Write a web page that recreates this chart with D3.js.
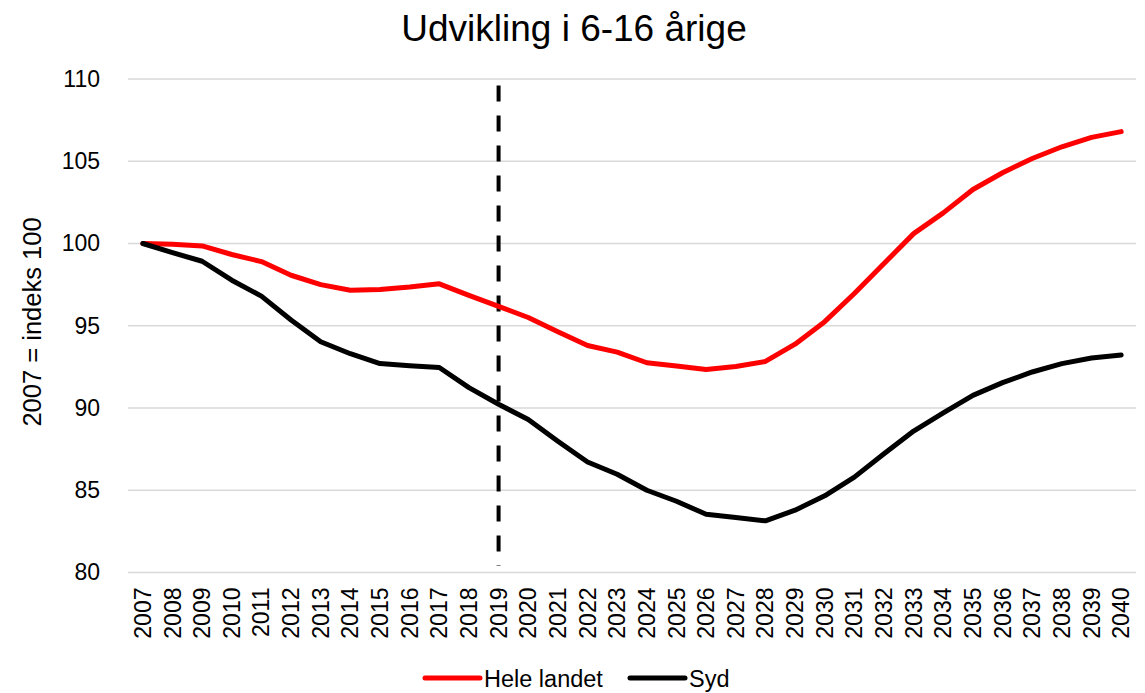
<!DOCTYPE html>
<html>
<head>
<meta charset="utf-8">
<script src="https://cdn.jsdelivr.net/npm/d3@7"></script>
<style>
  html, body { margin: 0; padding: 0; background: #fff; }
  text { font-family: "Liberation Sans", Arial, sans-serif; fill: #000; }
</style>
</head>
<body>
<svg id="chart" width="1145" height="693"></svg>
<script>
const years = d3.range(2007, 2041).map(String);
const heleLandet = [100, 99.95, 99.85, 99.33, 98.9, 98.07, 97.5, 97.16, 97.2, 97.35, 97.55, 96.85, 96.18,
  95.5, 94.63, 93.8, 93.4, 92.75, 92.55, 92.34, 92.52, 92.83, 93.88, 95.25,
  96.96, 98.78, 100.6, 101.86, 103.28, 104.3, 105.17, 105.88, 106.45, 106.8];
const syd = [100, 99.45, 98.92, 97.77, 96.8, 95.35, 94.03, 93.3, 92.7, 92.57, 92.46, 91.24, 90.23,
  89.3, 87.98, 86.72, 85.97, 85.0, 84.33, 83.54, 83.34, 83.14, 83.79, 84.66,
  85.8, 87.22, 88.6, 89.7, 90.77, 91.54, 92.19, 92.7, 93.04, 93.22];
const yTicks = [80, 85, 90, 95, 100, 105, 110];
const markerYear = "2019";
const seriesNames = ["Hele landet", "Syd"];
const seriesColors = ["#ff0000", "#000000"];

const svg = d3.select("#chart");
const mLeft = 128, mRight = 1136, mTop = 79, mBottom = 572.5;

const x = d3.scaleBand().domain(years).range([mLeft, mRight]);
const xc = d => x(d) + x.bandwidth() / 2;
const y = d3.scaleLinear().domain([80, 110]).range([mBottom, mTop]);

// Title
svg.append("text").attr("x", 574).attr("y", 41).attr("text-anchor", "middle")
  .style("font-size", "37px").text("Udvikling i 6-16 årige");

// Gridlines
svg.append("g").selectAll("line").data(yTicks).join("line")
  .attr("x1", mLeft).attr("x2", mRight)
  .attr("y1", d => y(d)).attr("y2", d => y(d))
  .attr("stroke", "#d9d9d9").attr("stroke-width", 1.5);

// Y axis labels
const yAxis = d3.axisLeft(y).tickValues(yTicks).tickSize(0).tickPadding(28);
const gy = svg.append("g").attr("transform", `translate(${mLeft},0)`).call(yAxis);
gy.select(".domain").remove();
gy.selectAll("text").style("font-size", "23px").style("font-family", "'Liberation Sans', Arial, sans-serif").attr("fill", "#000");

// Y title
svg.append("text").attr("transform", "translate(41,322) rotate(-90)")
  .attr("text-anchor", "middle").style("font-size", "25.5px").text("2007 = indeks 100");

// X axis labels
const xAxis = d3.axisBottom(x).tickSize(0).tickPadding(0);
const gx = svg.append("g").attr("transform", `translate(0,${mBottom})`).call(xAxis);
gx.select(".domain").remove();
gx.selectAll("text")
  .style("font-size", "23px").style("font-family", "'Liberation Sans', Arial, sans-serif").attr("fill", "#000")
  .attr("text-anchor", "end").attr("dy", "0.35em").attr("y", 0)
  .attr("transform", "translate(0,15) rotate(-90)");

// Dashed marker line
svg.append("line")
  .attr("x1", xc(markerYear)).attr("x2", xc(markerYear))
  .attr("y1", y(109.6)).attr("y2", y(80.4))
  .attr("stroke", "#000").attr("stroke-width", 4).attr("stroke-dasharray", "16,14");

// Lines
const line = d3.line().x((d, i) => xc(years[i])).y(d => y(d));
[heleLandet, syd].forEach((s, k) => {
  svg.append("path").datum(s).attr("d", line)
    .attr("fill", "none").attr("stroke", seriesColors[k]).attr("stroke-width", 5)
    .attr("stroke-linejoin", "round").attr("stroke-linecap", "round");
});

// Legend
const legendX = [425, 630];
legendX.forEach((lx, k) => {
  svg.append("line").attr("x1", lx).attr("x2", lx + 55).attr("y1", 678).attr("y2", 678)
    .attr("stroke", seriesColors[k]).attr("stroke-width", 5).attr("stroke-linecap", "round");
  svg.append("text").attr("x", lx + 59).attr("y", 679).attr("dy", "0.35em")
    .style("font-size", "23.5px").text(seriesNames[k]);
});
</script>
</body>
</html>
